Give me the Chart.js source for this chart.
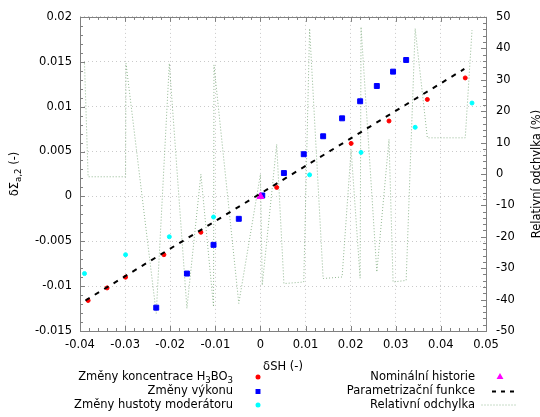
<!DOCTYPE html>
<html>
<head>
<meta charset="utf-8">
<script src="https://cdn.jsdelivr.net/npm/chart.js@4.4.1/dist/chart.umd.min.js"></script>
<style>
  html, body { margin: 0; padding: 0; background: #fff; }
  #wrap { width: 540px; height: 417px; position: relative; }
</style>
</head>
<body>
<div id="wrap"><canvas id="myChart"></canvas></div>
<script>
// tick labels
const xTicks = [-0.04, -0.03, -0.02, -0.01, 0, 0.01, 0.02, 0.03, 0.04, 0.05];
const yTicks = [-0.015, -0.01, -0.005, 0, 0.005, 0.01, 0.015, 0.02];
const y2Ticks = [-50, -40, -30, -20, -10, 0, 10, 20, 30, 40, 50];

// Změny koncentrace H3BO3
const boricX = [-0.0382, -0.0340, -0.0299, -0.0214, -0.0132, 0.0036, 0.0201, 0.0285, 0.0370, 0.0454];
const boricY = [-0.0116, -0.0102, -0.0090, -0.0065, -0.0040, 0.0010, 0.0059, 0.0084, 0.0108, 0.0132];

// Změny výkonu
const powerX = [-0.0231, -0.0163, -0.0104, -0.0048, 0.0004, 0.0052, 0.0096, 0.0139, 0.0181, 0.0221, 0.0258, 0.0294, 0.0323];
const powerY = [-0.0124, -0.0086, -0.0054, -0.0025, 0.0001, 0.0026, 0.0047, 0.0067, 0.0087, 0.0106, 0.0123, 0.0139, 0.0152];

// Změny hustoty moderátoru
const densityX = [-0.0390, -0.0299, -0.0202, -0.0104, 0.0109, 0.0223, 0.0343, 0.0469];
const densityY = [-0.0086, -0.0065, -0.0045, -0.0023, 0.0024, 0.0049, 0.0077, 0.0104];

// Nominální historie
const nominalX = [0];
const nominalY = [0];

// Parametrizační funkce
const fitX = [-0.0388, 0.0452];
const fitY = [-0.0116, 0.0142];

// Relativní odchylka (%)
const relX = [-0.0390, -0.0382, -0.0340, -0.0299, -0.0298, -0.0231, -0.0202, -0.0163, -0.0132, -0.0104,
              -0.0103, -0.0048, 0.0000, 0.0004, 0.0036, 0.0052, 0.0096, 0.0109, 0.0139, 0.0181,
              0.0201, 0.0221, 0.0223, 0.0258, 0.0285, 0.0294, 0.0323, 0.0343, 0.0370, 0.0454, 0.0469];
const relY = [35.2, -0.9, -0.9, -0.9, 35.2, -44.4, 35.2, -42.8, -0.1, -42.3,
              34.7, -41.2, -0.1, -35.4, 9.4, -34.9, -34.4, 46.3, -33.3, -32.8,
              7.8, -33.2, 46.8, -31.2, 11.0, -34.4, -33.9, 46.3, 11.5, 11.5, 45.8];

const FONT = 'DejaVu Sans';
const FS = 11.5;
Chart.defaults.font.family = FONT;
Chart.defaults.font.size = FS;
Chart.defaults.color = '#000';

const zip = (xs, ys) => xs.map((x, i) => ({ x: x, y: ys[i] }));
const fmt = v => String(parseFloat(Number(v).toFixed(4)));

// gnuplot-like "_{...}" subscripts
function parseEnh(str) {
    const parts = [];
    let buf = '';
    for (let i = 0; i < str.length; i++) {
        const c = str[i];
        if (c === '_') {
            if (buf) { parts.push({ t: buf, sub: false }); buf = ''; }
            let s;
            if (str[i + 1] === '{') {
                const j = str.indexOf('}', i);
                s = str.slice(i + 2, j);
                i = j;
            } else {
                s = str[i + 1];
                i++;
            }
            parts.push({ t: s, sub: true });
        } else {
            buf += c;
        }
    }
    if (buf) parts.push({ t: buf, sub: false });
    return parts;
}

function drawEnh(c, str, x, y, align) {
    const parts = parseEnh(str);
    const fnt = sub => (sub ? FS * 0.75 : FS) + 'px "' + FONT + '"';
    let w = 0;
    parts.forEach(p => { c.font = fnt(p.sub); w += c.measureText(p.t).width; });
    let cx = align === 'right' ? x - w : (align === 'center' ? x - w / 2 : x);
    c.textAlign = 'left';
    c.textBaseline = 'middle';
    c.fillStyle = '#000';
    parts.forEach(p => {
        c.font = fnt(p.sub);
        c.fillText(p.t, cx, y + (p.sub ? FS * 0.3 : 0));
        cx += c.measureText(p.t).width;
    });
}

function withMinors(major, n) {
    const out = [];
    for (let i = 0; i < major.length - 1; i++) {
        for (let k = 1; k < n; k++) out.push(major[i] + (major[i + 1] - major[i]) * k / n);
    }
    return out;
}

function drawSymbol(c, ds, x, y) {
    c.save();
    if (ds.showLine) {
        c.strokeStyle = ds.borderColor;
        c.lineWidth = ds.borderWidth;
        c.setLineDash(ds.legendDash || ds.borderDash || []);
        const half = ds.legendLen / 2;
        c.beginPath();
        c.moveTo(x - half, y);
        c.lineTo(x + half, y);
        c.stroke();
    } else {
        c.fillStyle = ds.backgroundColor;
        const r = ds.pointRadius;
        c.beginPath();
        if (ds.pointStyle === 'rect') {
            const s = r * Math.SQRT1_2;
            c.rect(x - s, y - s, 2 * s, 2 * s);
        } else if (ds.pointStyle === 'triangle') {
            c.moveTo(x, y - r);
            c.lineTo(x + r * 0.866, y + r * 0.5);
            c.lineTo(x - r * 0.866, y + r * 0.5);
            c.closePath();
        } else {
            c.arc(x, y, r + 0.5, 0, Math.PI * 2);
        }
        c.fill();
    }
    c.restore();
}

const gnuFrame = {
    id: 'gnuFrame',
    beforeDatasetsDraw(chart) {
        const c = chart.ctx;
        const a = chart.chartArea;
        const sx = chart.scales.x, sy = chart.scales.y, sy2 = chart.scales.y2;
        c.save();
        c.strokeStyle = '#808080';
        c.lineWidth = 1;
        c.strokeRect(Math.round(a.left) + 0.5, Math.round(a.top) + 0.5,
                     Math.round(a.right - a.left), Math.round(a.bottom - a.top));
        const tick = (list, len, fn) => list.forEach(v => fn(Math.round(fn.scale.getPixelForValue(v)) + 0.5, len));
        const xs = (p, len) => {
            c.beginPath();
            c.moveTo(p, a.bottom); c.lineTo(p, a.bottom - len);
            c.moveTo(p, a.top); c.lineTo(p, a.top + len);
            c.stroke();
        };
        xs.scale = sx;
        const ys = (p, len) => {
            c.beginPath(); c.moveTo(a.left, p); c.lineTo(a.left + len, p); c.stroke();
        };
        ys.scale = sy;
        const y2s = (p, len) => {
            c.beginPath(); c.moveTo(a.right, p); c.lineTo(a.right - len, p); c.stroke();
        };
        y2s.scale = sy2;
        tick(xTicks, 5, xs);
        tick(withMinors(xTicks, 5), 3, xs);
        tick(yTicks, 5, ys);
        tick(withMinors(yTicks, 5), 3, ys);
        tick(y2Ticks, 5, y2s);
        tick(withMinors(y2Ticks, 5), 3, y2s);
        c.restore();
    },
    afterDraw(chart) {
        const c = chart.ctx;
        const a = chart.chartArea;
        const midY = (a.top + a.bottom) / 2;
        c.save();
        drawEnh(c, 'δSH (-)', (a.left + a.right) / 2, 367, 'center');

        c.save();
        c.translate(15, midY);
        c.rotate(-Math.PI / 2);
        drawEnh(c, 'δΣ_{a,2} (-)', 0, 0, 'center');
        c.restore();

        c.save();
        c.translate(537, midY);
        c.rotate(-Math.PI / 2);
        drawEnh(c, 'Relativní odchylka (%)', 0, 0, 'center');
        c.restore();

        // legend, two columns: text right aligned, sample on the right
        const rows = [377, 391.5, 405];
        const ds = chart.data.datasets;
        ds.forEach((d, i) => {
            const col = i < 3 ? 0 : 1;
            const y = rows[i % 3];
            const textRight = col === 0 ? 233 : 475;
            const symX = col === 0 ? 258 : d.legendX;
            drawEnh(c, d.label, textRight, y, 'right');
            drawSymbol(c, d, symX, y);
        });
        c.restore();
    }
};

const gridOpts = { color: 'rgba(150,150,150,0.5)', lineWidth: 1, drawTicks: false };
const borderOpts = { display: false, dash: [1, 3] };

const ctx = document.getElementById('myChart');

new Chart(ctx, {
    type: 'scatter',
    data: {
        datasets: [{
            label: 'Změny koncentrace H_3BO_3',
            data: zip(boricX, boricY),
            pointStyle: 'circle',
            pointRadius: 2,
            pointBorderWidth: 1,
            backgroundColor: '#ff0000',
            borderColor: '#ff0000',
            order: 5
        }, {
            label: 'Změny výkonu',
            data: zip(powerX, powerY),
            pointStyle: 'rect',
            pointRadius: 3.5,
            pointBorderWidth: 1,
            backgroundColor: '#0000ff',
            borderColor: '#0000ff',
            order: 4
        }, {
            label: 'Změny hustoty moderátoru',
            data: zip(densityX, densityY),
            pointStyle: 'circle',
            pointRadius: 2,
            pointBorderWidth: 1,
            backgroundColor: '#00ffff',
            borderColor: '#00ffff',
            order: 3
        }, {
            label: 'Nominální historie',
            data: zip(nominalX, nominalY),
            pointStyle: 'triangle',
            pointRadius: 4,
            pointBorderWidth: 1,
            backgroundColor: '#ff00ff',
            borderColor: '#ff00ff',
            legendX: 500,
            order: 2
        }, {
            label: 'Parametrizační funkce',
            data: zip(fitX, fitY),
            showLine: true,
            pointRadius: 0,
            borderColor: '#000',
            borderWidth: 2,
            borderDash: [5, 6],
            legendDash: [4, 5],
            legendX: 503,
            legendLen: 22,
            order: 1
        }, {
            label: 'Relativní odchylka',
            data: zip(relX, relY),
            yAxisID: 'y2',
            showLine: true,
            pointRadius: 0,
            borderColor: 'rgba(110,160,110,0.75)',
            borderWidth: 1,
            borderDash: [1, 2],
            legendX: 499,
            legendLen: 35,
            order: 10
        }]
    },
    options: {
        responsive: true,
        maintainAspectRatio: false,
        animation: false,
        layout: { padding: { top: 15, left: 0, right: 0, bottom: 0 } },
        plugins: {
            legend: { display: false },
            tooltip: { enabled: false }
        },
        scales: {
            x: {
                type: 'linear',
                min: -0.04,
                max: 0.05,
                afterBuildTicks: s => { s.ticks = xTicks.map(v => ({ value: v })); },
                afterFit: s => { s.height = 86; },
                ticks: { callback: fmt, padding: 7, maxRotation: 0, autoSkip: false },
                grid: gridOpts,
                border: borderOpts
            },
            y: {
                type: 'linear',
                min: -0.015,
                max: 0.02,
                afterBuildTicks: s => { s.ticks = yTicks.map(v => ({ value: v })); },
                afterFit: s => { s.width = 80; },
                ticks: { callback: fmt, padding: 8, autoSkip: false },
                grid: gridOpts,
                border: borderOpts
            },
            y2: {
                type: 'linear',
                position: 'right',
                min: -50,
                max: 50,
                afterBuildTicks: s => { s.ticks = y2Ticks.map(v => ({ value: v })); },
                afterFit: s => { s.width = 54; },
                ticks: { callback: fmt, padding: 10, autoSkip: false },
                grid: { drawOnChartArea: false, drawTicks: false },
                border: { display: false }
            }
        }
    },
    plugins: [gnuFrame]
});
</script>
</body>
</html>
